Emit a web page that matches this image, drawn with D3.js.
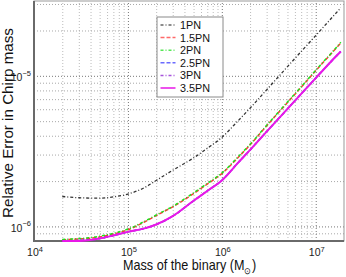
<!DOCTYPE html>
<html><head><meta charset="utf-8">
<script src="https://cdn.jsdelivr.net/npm/d3@7"></script>
<style>body{margin:0;background:#fff} svg{display:block;font-family:"Liberation Sans",Arial,Helvetica,sans-serif}</style>
</head><body><svg id="c" width="346" height="277"></svg>
<script>
// ---- data ----
const masses = [2e4, 3e4, 5e4, 7e4, 1e5, 1.5e5, 2e5, 3e5, 5e5, 7e5, 1e6, 1.5e6, 2e6, 3e6, 5e6, 7e6, 1e7, 1.5e7, 1.85e7];
const err1PN  = [1.58, 1.55, 1.54, 1.57, 1.64, 1.81, 2.02, 2.36, 2.85, 3.30, 3.90, 5.05, 6.10, 8.07, 11.5, 14.5, 18.5, 24.5, 28.3];
const err15PN = [0.815, 0.825, 0.85, 0.89, 0.95, 1.07, 1.18, 1.35, 1.65, 1.91, 2.24, 2.88, 3.48, 4.65, 6.64, 8.40, 10.8, 14.3, 16.5];
const err2PN  = [0.82, 0.83, 0.86, 0.90, 0.96, 1.08, 1.19, 1.36, 1.67, 1.93, 2.26, 2.91, 3.51, 4.69, 6.70, 8.47, 10.9, 14.4, 16.7];
const err25PN = [0.80, 0.805, 0.83, 0.87, 0.92, 0.97, 1.03, 1.17, 1.48, 1.72, 2.02, 2.66, 3.22, 4.26, 6.03, 7.59, 9.66, 12.7, 14.5];
const err3PN  = [0.80, 0.805, 0.83, 0.87, 0.92, 0.97, 1.03, 1.17, 1.48, 1.72, 2.02, 2.66, 3.22, 4.26, 6.03, 7.59, 9.66, 12.7, 14.5];
const err35PN = [0.80, 0.80, 0.83, 0.87, 0.92, 0.97, 1.03, 1.17, 1.48, 1.72, 2.02, 2.66, 3.22, 4.26, 6.03, 7.59, 9.66, 12.7, 14.5];
const errUnit = 1e-6;
const seriesNames = ["1PN", "1.5PN", "2PN", "2.5PN", "3PN", "3.5PN"];
const seriesValues = [err1PN, err15PN, err2PN, err25PN, err3PN, err35PN];
const xTickExps = [4, 5, 6, 7];
const yTickExps = [-6, -5];
const xLabel = "Mass of the binary (M";
const yLabel = "Relative Error in Chirp mass";

// ---- styles ----
const colors = ["#333333", "#ff3838", "#1fe01f", "#3a3aff", "#8a1ad0", "#e818e8"];
const dashes = ["3,2,1,2", "4,2", "3,2,1,2", "4,2", "3,2,1,2", null];
const widths = [1.3, 1.5, 1.5, 1.5, 1.5, 2];

const svg = d3.select('#c');
const L = 34, R = 344, T = 1, B = 241;
const x = d3.scaleLog().domain([1e4, 2e7]).range([L, R]);
const y = d3.scaleLog().domain([8e-7, 3.14e-5]).range([B, T]);

svg.append('rect').attr('x', 0).attr('y', 0).attr('width', 346).attr('height', 277).attr('fill', '#fff');

const isMajor = v => Math.abs(Math.log10(v) - Math.round(Math.log10(v))) < 1e-9;

// grid via axes
const xt = x.ticks().filter(v => v > 1e4 * 1.001 && v < 2e7 * 0.999);
const yt = y.ticks().filter(v => v > 8e-7 * 1.001 && v < 3.14e-5 * 0.999);
const gx = svg.append('g').attr('transform', `translate(0,${B})`)
  .call(d3.axisBottom(x).tickValues(xt).tickSize(-(B - T)).tickFormat(''));
gx.select('.domain').remove();
gx.selectAll('line').attr('stroke', d => isMajor(d) ? '#777' : '#bbb')
  .attr('stroke-dasharray', '1,2').attr('stroke-width', 1);
const gy = svg.append('g').attr('transform', `translate(${L},0)`)
  .call(d3.axisLeft(y).tickValues(yt).tickSize(-(R - L)).tickFormat(''));
gy.select('.domain').remove();
gy.selectAll('line').attr('stroke', d => isMajor(d) ? '#777' : '#a8a8a8')
  .attr('stroke-dasharray', '1,2').attr('stroke-width', 1);

// box
svg.append('rect').attr('x', L).attr('y', T).attr('width', R - L).attr('height', B - T)
  .attr('fill', 'none').attr('stroke', '#999').attr('stroke-width', 1);
svg.append('path').attr('d', `M${L},${T}V${B}H${R}`).attr('fill', 'none')
  .attr('stroke', '#6a6a6a').attr('stroke-width', 2);

// curves
svg.append('clipPath').attr('id', 'clip').append('rect')
  .attr('x', L).attr('y', T).attr('width', R - L).attr('height', B - T + 1);
const line = d3.line().x(d => x(d[0])).y(d => y(d[1])).curve(d3.curveMonotoneX);
const gc = svg.append('g').attr('clip-path', 'url(#clip)');
seriesValues.forEach((vals, i) => {
  const pts = masses.map((m, j) => [m, vals[j] * errUnit]);
  gc.append('path').attr('d', line(pts)).attr('fill', 'none')
    .attr('stroke', colors[i]).attr('stroke-width', widths[i])
    .attr('stroke-dasharray', dashes[i]);
});

// tick labels
xTickExps.forEach(e => {
  const t = svg.append('text').attr('x', x(Math.pow(10, e)) + 1).attr('y', 256)
    .attr('text-anchor', 'middle').attr('font-size', 10.5).attr('fill', '#222');
  t.append('tspan').text('10');
  t.append('tspan').attr('dy', -4.5).attr('font-size', 7.5).text(String(e));
});
yTickExps.forEach(e => {
  const yy = y(Math.pow(10, e));
  const t = svg.append('text').attr('x', 31).attr('y', yy + 5.5)
    .attr('text-anchor', 'end').attr('font-size', 10.5).attr('fill', '#222');
  t.append('tspan').text('10');
  t.append('tspan').attr('dy', -5.5).attr('font-size', 7.5).text(String(e).replace('-', '\u2212'));
});

// axis labels (scaled horizontally to match reference extents)
const xlg = svg.append('g');
const xl = xlg.append('text').attr('x', 0).attr('y', 0).attr('font-size', 14).attr('fill', '#111');
xl.append('tspan').text(xLabel);
xl.append('tspan').attr('font-size', 9).attr('dy', 4).text('\u2299');
xl.append('tspan').attr('dy', -4).text(')');
const xw = xl.node().getBBox().width;
xlg.attr('transform', `translate(123,270) scale(${133 / xw},1)`);

const ylg = svg.append('g');
const yl = ylg.append('text').attr('x', 0).attr('y', 0).attr('text-anchor', 'middle')
  .attr('font-size', 14.5).attr('fill', '#111').text(yLabel);
const yw = yl.node().getBBox().width;
ylg.attr('transform', `translate(12.5,123) rotate(-90) scale(${190 / yw},1)`);

// legend
const lg = svg.append('g');
lg.append('rect').attr('x', 157).attr('y', 17).attr('width', 66).attr('height', 80)
  .attr('fill', '#fff').attr('stroke', '#8a8a8a').attr('stroke-width', 1);
seriesNames.forEach((n, i) => {
  const cy = 25 + 12.6 * i;
  lg.append('line').attr('x1', 160.5).attr('x2', 175.5).attr('y1', cy).attr('y2', cy)
    .attr('stroke', colors[i]).attr('stroke-width', widths[i]).attr('stroke-dasharray', dashes[i])
    .attr('opacity', 0.75);
  lg.append('text').attr('x', 180).attr('y', cy + 3.9).attr('font-size', 10.8).attr('fill', '#111').text(n);
});
</script></body></html>
